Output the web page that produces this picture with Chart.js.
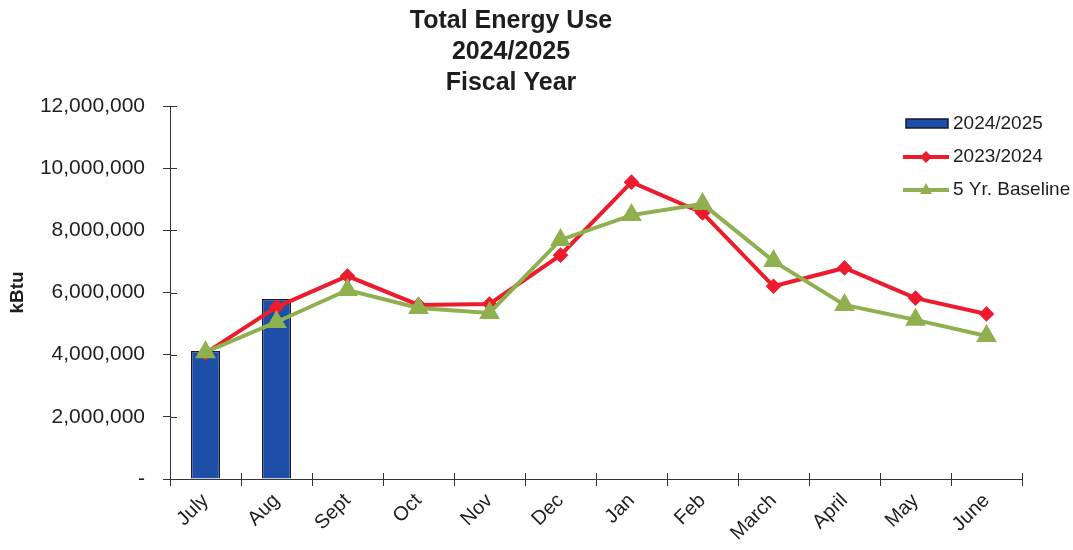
<!DOCTYPE html>
<html>
<head>
<meta charset="utf-8">
<script src="https://cdn.jsdelivr.net/npm/chart.js@4"></script>
<style>
html,body{margin:0;padding:0;background:#fff;}
#wrap{width:1073px;height:550px;position:relative;}
</style>
</head>
<body>
<div id="wrap"><canvas id="c" width="1073" height="550"></canvas></div>
<script>
const categories = ["July","Aug","Sept","Oct","Nov","Dec","Jan","Feb","March","April","May","June"];
const fy2425 = [4120000, 5790000, null, null, null, null, null, null, null, null, null, null];
const fy2324 = [4050000, 5530000, 6530000, 5600000, 5630000, 7200000, 9550000, 8560000, 6200000, 6790000, 5820000, 5310000];
const baseline = [4080000, 5050000, 6080000, 5500000, 5340000, 7690000, 8490000, 8850000, 7010000, 5600000, 5120000, 4600000];
const yTicks = [0, 2000000, 4000000, 6000000, 8000000, 10000000, 12000000];
const titleLines = ["Total Energy Use", "2024/2025", "Fiscal Year"];
const seriesNames = ["2024/2025", "2023/2024", "5 Yr. Baseline"];

const FONT = "'Liberation Sans', Arial, sans-serif";
const BLUE = "#1d4ea8", RED = "#ec1c2e", GREEN = "#8fb04e";

const titlePlugin = {
  id: 'customTitle',
  afterDraw(chart) {
    const ctx = chart.ctx;
    ctx.save();
    ctx.fillStyle = '#1e1e1e';
    ctx.font = "bold 25px " + FONT;
    ctx.textAlign = 'center';
    ctx.textBaseline = 'middle';
    const ys = [21, 52, 83];
    titleLines.forEach((t, i) => ctx.fillText(t, 511, ys[i]));
    ctx.restore();
  }
};

// tick marks that cross the axis line into the plot area
const crossTicks = {
  id: 'crossTicks',
  beforeDatasetsDraw(chart) {
    const ctx = chart.ctx, xs = chart.scales.x, ys = chart.scales.y;
    const a = chart.chartArea;
    ctx.save();
    ctx.strokeStyle = '#333'; ctx.lineWidth = 1;
    ctx.beginPath();
    ys.ticks.forEach((t, i) => {
      const y = Math.round(ys.getPixelForTick(i)) + 0.5;
      ctx.moveTo(a.left, y); ctx.lineTo(a.left + 7, y);
    });
    const n = categories.length;
    for (let i = 0; i <= n; i++) {
      const x = Math.round(a.left + (a.right - a.left) * i / n) + 0.5;
      ctx.moveTo(x, a.bottom); ctx.lineTo(x, a.bottom - 6);
    }
    ctx.stroke();
    ctx.restore();
  }
};

const legendPlugin = {
  id: 'customLegend',
  afterDraw(chart) {
    const ctx = chart.ctx;
    ctx.save();
    ctx.font = "19px " + FONT;
    ctx.textAlign = 'left';
    ctx.textBaseline = 'middle';
    ctx.fillStyle = BLUE;
    ctx.fillRect(906, 119, 42, 9);
    ctx.strokeStyle = '#1a1a2e';
    ctx.lineWidth = 1.5;
    ctx.strokeRect(906, 119, 42, 9);
    ctx.strokeStyle = RED; ctx.lineWidth = 4;
    ctx.beginPath(); ctx.moveTo(903, 157); ctx.lineTo(949, 157); ctx.stroke();
    ctx.fillStyle = RED;
    ctx.beginPath(); ctx.moveTo(926, 151); ctx.lineTo(932, 157); ctx.lineTo(926, 163); ctx.lineTo(920, 157); ctx.closePath(); ctx.fill();
    ctx.strokeStyle = GREEN; ctx.lineWidth = 4;
    ctx.beginPath(); ctx.moveTo(903, 190); ctx.lineTo(949, 190); ctx.stroke();
    ctx.fillStyle = GREEN;
    ctx.beginPath(); ctx.moveTo(926, 183); ctx.lineTo(932, 194); ctx.lineTo(920, 194); ctx.closePath(); ctx.fill();
    ctx.fillStyle = '#1e1e1e';
    ctx.fillText(seriesNames[0], 953, 124);
    ctx.fillText(seriesNames[1], 953, 157);
    ctx.fillText(seriesNames[2], 953, 190);
    ctx.restore();
  }
};

new Chart(document.getElementById('c'), {
  type: 'bar',
  data: {
    labels: categories,
    datasets: [
      {
        type: 'bar', label: seriesNames[0], data: fy2425,
        backgroundColor: BLUE, borderColor: '#1a1a2e', borderWidth: 1.5,
        categoryPercentage: 1.0, barPercentage: 0.41, order: 3
      },
      {
        type: 'line', label: seriesNames[1], data: fy2324,
        borderColor: RED, backgroundColor: RED, borderWidth: 4,
        pointStyle: 'rectRot', pointRadius: 5, pointHoverRadius: 5,
        tension: 0, order: 2
      },
      {
        type: 'line', label: seriesNames[2], data: baseline,
        borderColor: GREEN, backgroundColor: GREEN, borderWidth: 4,
        pointStyle: 'triangle', pointRadius: 8, pointHoverRadius: 8,
        tension: 0, order: 1
      }
    ]
  },
  options: {
    responsive: false,
    animation: false,
    devicePixelRatio: 1,
    layout: { padding: { top: 106, right: 51, left: 0, bottom: 0 } },
    plugins: {
      legend: { display: false },
      title: { display: false },
      tooltip: { enabled: false }
    },
    scales: {
      x: {
        offset: true,
        grid: { offset: true, drawOnChartArea: false, drawTicks: true, tickLength: 7, color: '#333', lineWidth: 1 },
        border: { color: '#333', width: 1 },
        ticks: {
          color: '#1e1e1e', font: { family: FONT, size: 20 },
          minRotation: 45, maxRotation: 45, autoSkip: false, padding: 3
        },
        afterFit(scale) { scale.height = 71; }
      },
      y: {
        min: 0, max: 12000000,
        afterBuildTicks(scale) { scale.ticks = yTicks.map(v => ({ value: v })); },
        grid: { drawOnChartArea: false, drawTicks: true, tickLength: 7, color: '#333', lineWidth: 1 },
        border: { color: '#333', width: 1 },
        ticks: {
          color: '#1e1e1e', font: { family: FONT, size: 21 }, padding: 18,
          callback(v) { return v === 0 ? '-' : v.toLocaleString('en-US'); }
        },
        title: {
          display: true, text: 'kBtu', color: '#1e1e1e',
          font: { family: FONT, size: 19, weight: 'bold' }, padding: { top: 6, bottom: 0 }
        },
        afterFit(scale) { scale.width = 170; }
      }
    }
  },
  plugins: [titlePlugin, crossTicks, legendPlugin]
});
</script>
</body>
</html>
